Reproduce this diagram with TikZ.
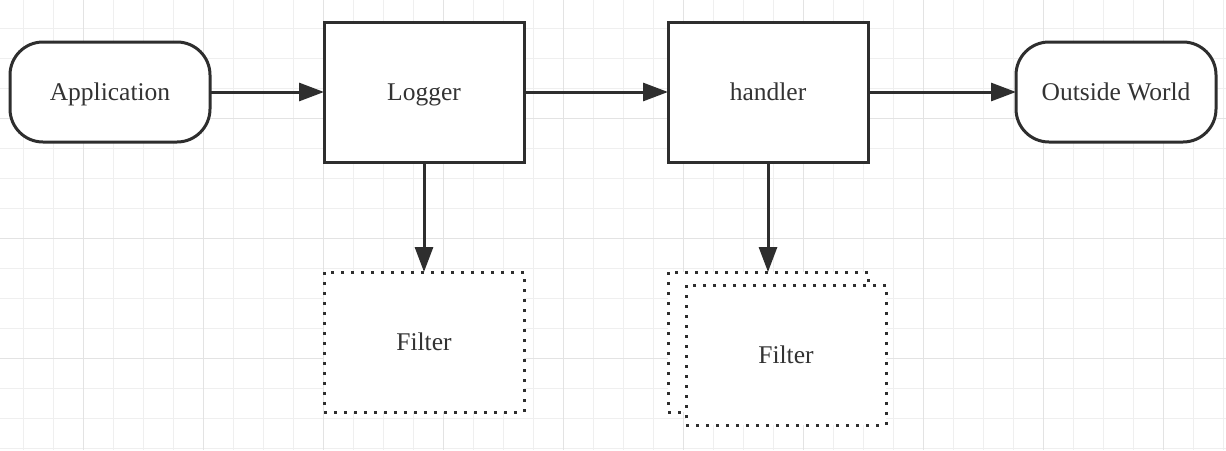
\documentclass[tikz,border=0pt]{standalone}
\usepackage{fontspec}
\setmainfont{Liberation Serif}
\usetikzlibrary{arrows.meta}
\definecolor{ink}{HTML}{2E2E2E}
\definecolor{txt}{HTML}{333333}
\definecolor{gridminor}{HTML}{EFEFEF}
\definecolor{gridmajor}{HTML}{E3E3E3}
\tikzset{
  base/.style={draw=ink, line width=3pt, fill=white, text=txt, font=\fontsize{25.5}{30}\selectfont, inner sep=0pt, outer sep=0pt, text height=17pt, text depth=0pt},
  pill/.style={base, rectangle, rounded corners=33pt, minimum width=200pt, minimum height=100pt},
  procbox/.style={base, rectangle, minimum width=200pt, minimum height=140pt},
  dotbox/.style={base, rectangle, minimum width=200pt, minimum height=140pt, dash pattern=on 3pt off 7pt},
  flow/.style={draw=ink, line width=3pt, -{Triangle[length=25pt, width=18pt]}}
}
\begin{document}
\begin{tikzpicture}[x=1pt,y=-1pt]
\useasboundingbox (0,0) rectangle (1226,450);
\fill[white] (0,0) rectangle (1226,450);
% grid
\foreach \i in {0,...,40} {
  \pgfmathsetmacro{\gx}{23.3+30*\i}
  \draw[gridminor, line width=1.4pt] (\gx,0) -- (\gx,450);
}
\foreach \i in {0,...,15} {
  \pgfmathsetmacro{\gy}{28.3+30*\i}
  \draw[gridminor, line width=1.4pt] (0,\gy) -- (1226,\gy);
}
\foreach \i in {0,...,9} {
  \pgfmathsetmacro{\gx}{83.3+120*\i}
  \draw[gridmajor, line width=1.6pt] (\gx,0) -- (\gx,450);
}
\foreach \i in {0,...,3} {
  \pgfmathsetmacro{\gy}{-1.7+120*\i}
  \draw[gridmajor, line width=1.6pt] (0,\gy) -- (1226,\gy);
}
% nodes
\node[pill] (app) at (110,92) {Application};
\node[procbox] (logger) at (424,92) {Logger};
\node[procbox] (handler) at (768,92) {handler};
\node[pill] (world) at (1116,92) {Outside World};
\node[dotbox] (filter1) at (424,342) {Filter};
\node[dotbox] (filter2b) at (768,342) {};
\node[dotbox] (filter2) at (786,355) {Filter};
% connectors
\draw[flow] (app) -- (logger);
\draw[flow] (logger) -- (handler);
\draw[flow] (handler) -- (world);
\draw[flow] (logger) -- (filter1);
\draw[flow] (handler) -- (filter2b.north);
\end{tikzpicture}
\end{document}
